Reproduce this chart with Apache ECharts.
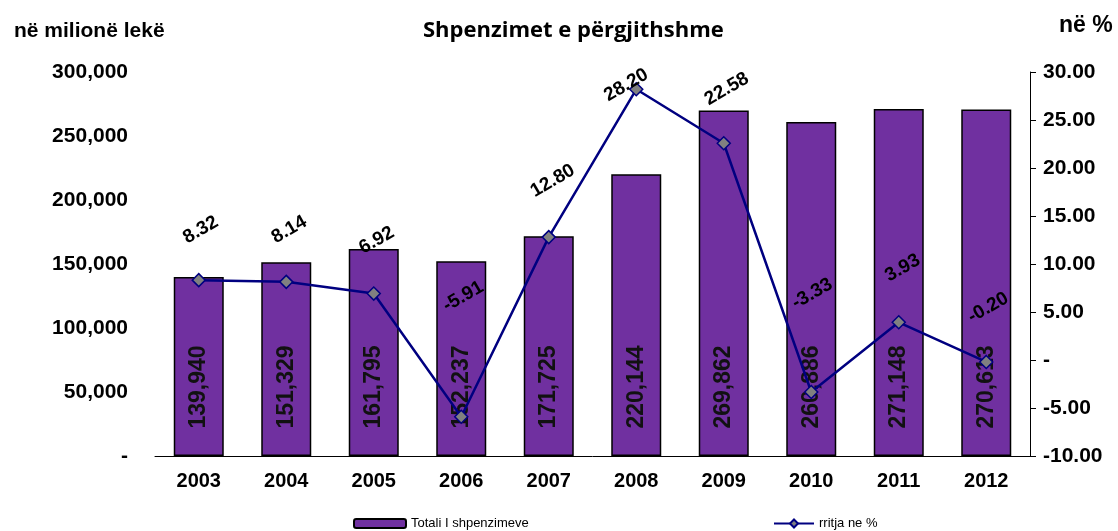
<!DOCTYPE html>
<html><head><meta charset="utf-8">
<script src="https://cdn.jsdelivr.net/npm/echarts@6/dist/echarts.min.js"></script>
<style>html,body{margin:0;padding:0;background:#fff}#c{width:1118px;height:531px}</style>
</head><body><div id="c"></div>
<script>
const years = ['2003','2004','2005','2006','2007','2008','2009','2010','2011','2012'];
const totalSpending = [139940,151329,161795,152237,171725,220144,269862,260886,271148,270613];
const growthPct = [8.32,8.14,6.92,-5.91,12.80,28.20,22.58,-3.33,3.93,-0.20];
const leftTicks = [0,50000,100000,150000,200000,250000,300000];
const rightTicks = [-10,-5,0,5,10,15,20,25,30];

// label placement tweaks (style only), screen-space dx, dy from point
const growthLabelOffsets = [[2,-43],[3,-45],[3,-46],[2,-113],[4,-49],[-10,3],[3,-47],[1,-91],[4,-47],[2,-47]];
const ROT = 30;
function toLabelFrame(d) {
  const t = ROT * Math.PI / 180, c = Math.cos(t), s = Math.sin(t);
  return [d[0] * c - d[1] * s, d[0] * s + d[1] * c];
}

const chart = echarts.init(document.getElementById('c'));
const F = 'Liberation Sans, Arial, sans-serif';
const fmtThousands = v => v === 0 ? '-' : v.toLocaleString('en-US');
chart.setOption({
  animation: false,
  textStyle: {fontFamily: F},
  title: [
    {text: 'Shpenzimet e përgjithshme', left: 418, top: 15,
     textStyle: {fontFamily: 'Open Sans, sans-serif', fontWeight: 'bold', fontSize: 22, color: '#000'}},
    {text: 'në milionë lekë', left: 9, top: 16,
     textStyle: {fontFamily: F, fontWeight: 'bold', fontSize: 21, color: '#000'}},
    {text: 'në %', left: 1054, top: 9,
     textStyle: {fontFamily: F, fontWeight: 'bold', fontSize: 23, color: '#000'}}
  ],
  grid: {left: 155, right: 88, top: 72, bottom: 75},
  legend: [
    {data: ['Totali I shpenzimeve'], left: 348, top: 512, itemWidth: 52, itemHeight: 9, itemGap: 4,
     textStyle: {fontFamily: 'Liberation Sans Narrow, Arial Narrow, sans-serif', fontSize: 13, color: '#000'}},
    {data: ['rritja ne %'], left: 768, top: 512, itemWidth: 40, itemHeight: 10,
     textStyle: {fontFamily: 'Liberation Sans Narrow, Arial Narrow, sans-serif', fontSize: 13, color: '#000'}}
  ],
  xAxis: {
    type: 'category', data: years,
    axisLine: {lineStyle: {color: '#000', width: 1}},
    axisTick: {show: false},
    axisLabel: {fontFamily: F, fontWeight: 'bold', fontSize: 20, color: '#000', margin: 15}
  },
  yAxis: [
    {type: 'value', min: 0, max: 300000, interval: 50000,
     axisLine: {show: false}, axisTick: {show: false}, splitLine: {show: false},
     axisLabel: {fontFamily: F, fontWeight: 'bold', fontSize: 21, color: '#000', margin: 27,
       formatter: fmtThousands}},
    {type: 'value', min: -10, max: 30, interval: 5, position: 'right',
     axisLine: {show: true, lineStyle: {color: '#000', width: 1}},
     axisTick: {show: true, length: 6, lineStyle: {color: '#000'}},
     splitLine: {show: false},
     axisLabel: {fontFamily: F, fontWeight: 'bold', fontSize: 21, color: '#000', margin: 13,
       formatter: v => v === 0 ? '-' : v.toFixed(2)}}
  ],
  series: [
    {name: 'Totali I shpenzimeve', type: 'bar', data: totalSpending, yAxisIndex: 0,
     barWidth: 50,
     itemStyle: {color: '#7030A0', borderColor: '#000', borderWidth: 1.5},
     label: {show: true, position: 'insideBottom', distance: 0, offset: [69, 0], rotate: 90,
       align: 'center', verticalAlign: 'middle',
       fontFamily: F, fontWeight: 'bold', fontSize: 23, color: '#111',
       formatter: p => p.value.toLocaleString('en-US')}},
    {name: 'rritja ne %', type: 'line', yAxisIndex: 1,
     data: growthPct.map((v, i) => ({value: v, label: {offset: toLabelFrame(growthLabelOffsets[i])}})),
     lineStyle: {color: '#000080', width: 2.5},
     symbol: 'diamond', symbolSize: 13,
     itemStyle: {color: '#808080', borderColor: '#000080', borderWidth: 1.5},
     z: 5,
     label: {show: true, position: 'top', distance: 0, rotate: ROT,
       align: 'center', verticalAlign: 'middle',
       fontFamily: F, fontWeight: 'bold', fontSize: 19, color: '#000',
       formatter: p => p.value.toFixed(2)}}
  ]
});
</script></body></html>
